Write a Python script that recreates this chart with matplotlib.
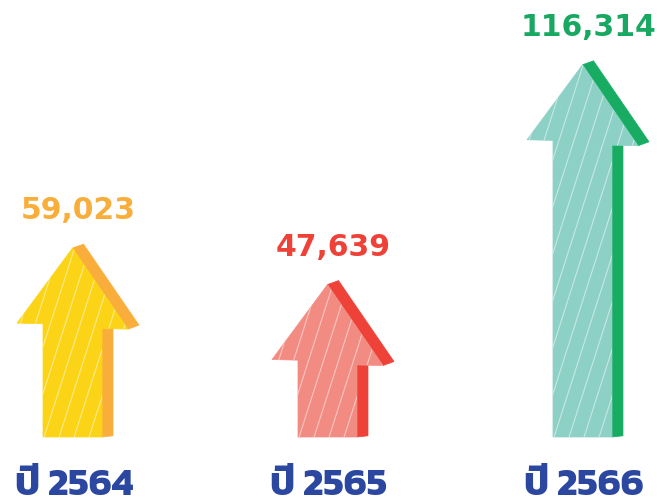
import matplotlib
matplotlib.use("Agg")
import matplotlib.pyplot as plt
from matplotlib import font_manager
from matplotlib.ft2font import FT2Font
from matplotlib.patches import Polygon
from matplotlib.lines import Line2D
import numpy as np

years = ["ปี 2564", "ปี 2565", "ปี 2566"]
values = [59023, 47639, 116314]
value_labels = ["59,023", "47,639", "116,314"]
front_colors = ["#FCD417", "#F28C83", "#8DD1C6"]
side_colors = ["#F9AE3C", "#EE4238", "#18AC63"]
label_colors = ["#F9AE3C", "#EE4238", "#18A862"]
year_color = "#2B47A0"

# find an installed font with Thai glyphs
fams = set()
for f in font_manager.fontManager.ttflist:
    try:
        if 0x0E1B in FT2Font(f.fname).get_charmap():
            fams.add(f.name)
    except Exception:
        pass
thai = None
for pref in ["Kanit", "Prompt", "Mitr", "Noto Sans Thai", "Sarabun"]:
    if pref in fams:
        thai = pref
        break
if thai is None and fams:
    thai = sorted(fams)[0]
year_family = [thai, "DejaVu Sans"] if thai else "DejaVu Sans"

fig = plt.figure(figsize=(6.57, 5.04), dpi=100)
ax = fig.add_axes([0, 0, 1, 1])
ax.set_xlim(-0.2843, 2.2922)
ax.set_ylim(-20937, 136562)
ax.axis("off")

# geometry constants (axis units)
px_x = 1 / 255.0
px_y = 312.5
shaft_hw = 29.5 * px_x
head_hw = 55.5 * px_x
head_h = 78 * px_y
dx = 11 * px_x
dy = 4 * px_y
skew = 3 * px_y
slope = 0.32 * px_x / px_y  # hatch: x-shift per data-y

for i, v in enumerate(values):
    cx = i
    base = 0
    hb = v - head_h
    front = [
        (cx - shaft_hw, base),
        (cx - shaft_hw, hb + skew * 0.8),
        (cx - head_hw, hb + skew),
        (cx, v),
        (cx + head_hw, hb - skew),
        (cx + shaft_hw, hb - skew * 0.8),
        (cx + shaft_hw, base),
    ]
    head_side = [
        (cx, v), (cx + dx, v + dy),
        (cx + head_hw + dx, hb - skew + dy), (cx + head_hw, hb - skew),
    ]
    shaft_side = [
        (cx + shaft_hw, hb - skew * 0.8), (cx + shaft_hw + dx, hb - skew * 0.8 + dy),
        (cx + shaft_hw + dx, base + dy * 0.3), (cx + shaft_hw, base),
    ]
    for poly in (head_side, shaft_side):
        ax.add_patch(Polygon(poly, closed=True, facecolor=side_colors[i],
                             edgecolor=side_colors[i], lw=0.5, zorder=2))
    fp = Polygon(front, closed=True, facecolor=front_colors[i],
                 edgecolor=front_colors[i], lw=0.5, zorder=3)
    ax.add_patch(fp)
    # decorative white hatch lines
    y0 = base - 5 * px_y
    y1 = v + 5 * px_y
    for k in np.arange(-14, 8):
        x0 = cx + k * 15 * px_x
        ln = Line2D([x0, x0 + slope * (y1 - y0)], [y0, y1], color="white",
                    alpha=0.5, lw=0.8, zorder=4)
        ax.add_line(ln)
        ln.set_clip_path(fp)
    ax.annotate(value_labels[i], (cx, v), xytext=(4, 27), textcoords="offset points",
                ha="center", va="center", fontsize=21.5, fontweight="bold",
                color=label_colors[i], family="DejaVu Sans")
    ax.annotate(years[i], (cx, 0), xytext=(1, -35), textcoords="offset points",
                ha="center", va="center", fontsize=28, fontweight="bold",
                color=year_color, family=year_family)

fig.savefig("out.png", dpi=100)
